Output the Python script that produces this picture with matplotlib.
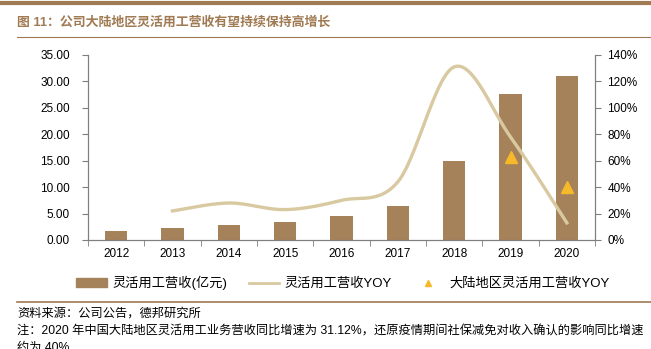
import matplotlib.pyplot as plt
import matplotlib.ticker
from matplotlib.lines import Line2D
from matplotlib.patches import Patch
import numpy as np

plt.rcParams['font.family'] = ['Liberation Sans', 'Noto Sans CJK SC', 'DejaVu Sans']

years = ['2012', '2013', '2014', '2015', '2016', '2017', '2018', '2019', '2020']
revenue = [1.75, 2.2, 2.8, 3.5, 4.5, 6.5, 15.0, 27.6, 31.0]
yoy = [None, 22, 28, 23, 30, 44, 131, 78, 13]
mainland_yoy = [None, None, None, None, None, None, None, 63, 40]

bar_color = '#A6825B'
line_color = '#D9C9A1'
tri_color = '#F6B92A'
brown = '#A07A52'
axis_gray = '#7F7F7F'


def catmull_rom(xs, ys, n=30):
    # smooth the line like spreadsheet "smoothed line"
    px = [xs[0]] + list(xs) + [xs[-1]]
    py = [ys[0]] + list(ys) + [ys[-1]]
    ox, oy = [], []
    for i in range(1, len(px) - 2):
        t = np.linspace(0, 1, n)
        for arr, p in ((ox, px), (oy, py)):
            p0, p1, p2, p3 = p[i - 1], p[i], p[i + 1], p[i + 2]
            arr.extend(0.5 * (2 * p1 + (-p0 + p2) * t + (2 * p0 - 5 * p1 + 4 * p2 - p3) * t ** 2
                              + (-p0 + 3 * p1 - 3 * p2 + p3) * t ** 3))
    return np.array(ox), np.array(oy)


fig = plt.figure(figsize=(6.51, 3.49), dpi=100)
ax = fig.add_axes([88 / 651, 109 / 349, 507 / 651, 185 / 349])
ax2 = ax.twinx()

x = np.arange(len(years))
ax.bar(x, revenue, 0.4, color=bar_color, zorder=2)
ax.set_xlim(-0.5, len(years) - 0.5)
ax.set_ylim(0, 35)
ax.set_yticks(np.arange(0, 36, 5))
ax.yaxis.set_major_formatter(matplotlib.ticker.FuncFormatter(lambda v, pos: "%.2f" % v))
ax.set_xticks(x)
ax.set_xticklabels(years)
ax.set_xticks(np.arange(-0.5, len(years), 1), minor=True)
ax.tick_params(axis='x', which='major', length=0, labelsize=8.5, pad=6)
ax.tick_params(axis='x', which='minor', length=4, color=axis_gray, direction='out')
ax.tick_params(axis='y', labelsize=8.5, length=4, color=axis_gray, pad=9)

lx = [i for i, v in enumerate(yoy) if v is not None]
ly = [v for v in yoy if v is not None]
sx, sy = catmull_rom(lx, ly)
ax2.plot(sx, sy, color=line_color, lw=2.4, zorder=3)
tx = [i for i, v in enumerate(mainland_yoy) if v is not None]
ty = [v for v in mainland_yoy if v is not None]
ax2.plot(tx, ty, linestyle='none', marker='^', markersize=9, color=tri_color, zorder=4)
ax2.set_ylim(0, 140)
ax2.set_yticks(np.arange(0, 141, 20))
ax2.yaxis.set_major_formatter(matplotlib.ticker.FuncFormatter(lambda v, pos: "%d%%" % v))
ax2.tick_params(axis='y', labelsize=8.5, length=4, color=axis_gray, pad=5)

for a in (ax, ax2):
    a.spines['top'].set_visible(False)
    for s in ('left', 'right', 'bottom'):
        a.spines[s].set_color(axis_gray)
        a.spines[s].set_linewidth(0.8)

handles = [Patch(color=bar_color),
           Line2D([], [], color=line_color, lw=2),
           Line2D([], [], linestyle='none', marker='^', markersize=5, color=tri_color)]
labels = ['灵活用工营收(亿元)', '灵活用工营收YOY', '大陆地区灵活用工营收YOY']
fig.legend(handles, labels, loc='center', bbox_to_anchor=(343 / 651, 1 - 283 / 349), ncol=3,
           frameon=False, fontsize=9.5, handlelength=2.3, columnspacing=1.6, handletextpad=0.45)

# header / footer decoration
fig.add_artist(Line2D([0, 1], [1 - 3 / 349, 1 - 3 / 349], color=brown, lw=3))
fig.add_artist(Line2D([17 / 651, 1], [1 - 37 / 349, 1 - 37 / 349], color=brown, lw=0.8))
fig.add_artist(Line2D([17 / 651, 1], [1 - 302 / 349, 1 - 302 / 349], color=brown, lw=1.2))
fig.text(17 / 651, 1 - 22 / 349, '图 11：公司大陆地区灵活用工营收有望持续保持高增长', color=brown,
         fontsize=9.3, fontweight='bold', va='center')
fig.text(17 / 651, 1 - 314 / 349, '资料来源：公司公告，德邦研究所', fontsize=8.8, va='center')
fig.text(17 / 651, 1 - 332 / 349,
         '注：2020 年中国大陆地区灵活用工业务营收同比增速为 31.12%，还原疫情期间社保减免对收入确认的影响同比增速',
         fontsize=8.8, va='center')
fig.text(17 / 651, 1 - 348 / 349, '约为 40%', fontsize=8.8, va='center')

fig.savefig('out.png', dpi=100)
plt.close()
